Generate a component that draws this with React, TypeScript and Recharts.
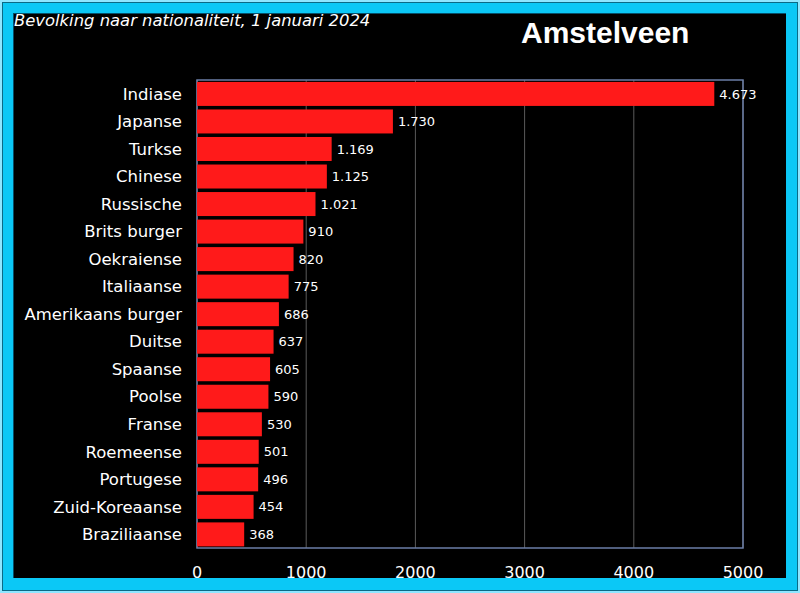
import { BarChart, Bar, XAxis, YAxis, CartesianGrid, ReferenceArea, LabelList } from 'recharts';

const nationalities = [
  'Indiase', 'Japanse', 'Turkse', 'Chinese', 'Russische', 'Brits burger', 'Oekraiense',
  'Italiaanse', 'Amerikaans burger', 'Duitse', 'Spaanse', 'Poolse', 'Franse',
  'Roemeense', 'Portugese', 'Zuid-Koreaanse', 'Braziliaanse',
];
const inhabitants = [4673, 1730, 1169, 1125, 1021, 910, 820, 775, 686, 637, 605, 590, 530, 501, 496, 454, 368];
const xTicks = [0, 1000, 2000, 3000, 4000, 5000];

const data = nationalities.map((name, i) => ({ name, value: inhabitants[i] }));

// Dutch thousands separator: 4673 -> 4.673
function formatNl(v: number): string {
  return String(v).replace(/\B(?=(\d{3})+(?!\d))/g, '.');
}

const FONT = '"DejaVu Sans", Verdana, sans-serif';
const BAR_EXTRA = 7; // the original draws bars a few px past their scale value

function RedBar(props: any) {
  const { x, y, width, height } = props;
  return <rect x={x} y={y} width={Math.max(0, width + BAR_EXTRA)} height={height} fill="#ff1a1a" />;
}

export default function App() {
  return (
    <div
      style={{
        position: 'absolute',
        left: 0,
        top: 0,
        width: 800,
        height: 593,
        boxSizing: 'border-box',
        background: '#0bc8f6',
        border: '2px solid #8fe6ff',
        outline: '1px solid #0a6a86',
        outlineOffset: -3,
      }}
    >
      <div
        style={{
          position: 'absolute',
          left: 11,
          top: 11,
          width: 773,
          height: 565,
          background: '#000',
          boxShadow: 'inset 1px 1px 0 #05506a',
        }}
      />
      <div
        style={{
          position: 'absolute',
          left: 12,
          top: 9,
          color: '#fff',
          fontFamily: FONT,
          fontStyle: 'italic',
          fontSize: 16.4,
          whiteSpace: 'nowrap',
        }}
      >
        Bevolking naar nationaliteit, 1 januari 2024
      </div>
      <div
        style={{
          position: 'absolute',
          left: 519,
          top: 14,
          color: '#fff',
          fontFamily: '"Liberation Sans", Arial, sans-serif',
          fontWeight: 'bold',
          fontSize: 30,
          whiteSpace: 'nowrap',
        }}
      >
        Amstelveen
      </div>
      <div style={{ position: 'absolute', left: -2, top: -2 }}>
        <BarChart
          width={800}
          height={593}
          data={data}
          layout="vertical"
          margin={{ top: 80, right: 57, bottom: 15, left: 0 }}
          barCategoryGap="7%"
        >
          <CartesianGrid stroke="#5a5a5a" horizontal={false} vertical={true} />
          <XAxis
            type="number"
            domain={[0, 5000]}
            ticks={xTicks}
            height={30}
            axisLine={false}
            tickLine={false}
            tickMargin={13}
            tick={{ fill: '#fff', fontSize: 16, fontFamily: FONT }}
            interval={0}
          />
          <YAxis
            type="category"
            dataKey="name"
            width={197}
            axisLine={false}
            tickLine={false}
            tickMargin={9}
            tick={{ fill: '#fff', fontSize: 16.5, fontFamily: FONT }}
            interval={0}
          />
          <ReferenceArea x1={0} x2={5000} fill="none" stroke="#6b7ea6" strokeWidth={1.5} ifOverflow="visible" />
          <Bar dataKey="value" fill="#ff1a1a" shape={RedBar} isAnimationActive={false}>
            <LabelList
              dataKey="value"
              position="right"
              offset={5 + BAR_EXTRA}
              formatter={(v: any) => formatNl(Number(v))}
              style={{ fill: '#fff', fontSize: 13, fontFamily: FONT }}
            />
          </Bar>
        </BarChart>
      </div>
    </div>
  );
}
